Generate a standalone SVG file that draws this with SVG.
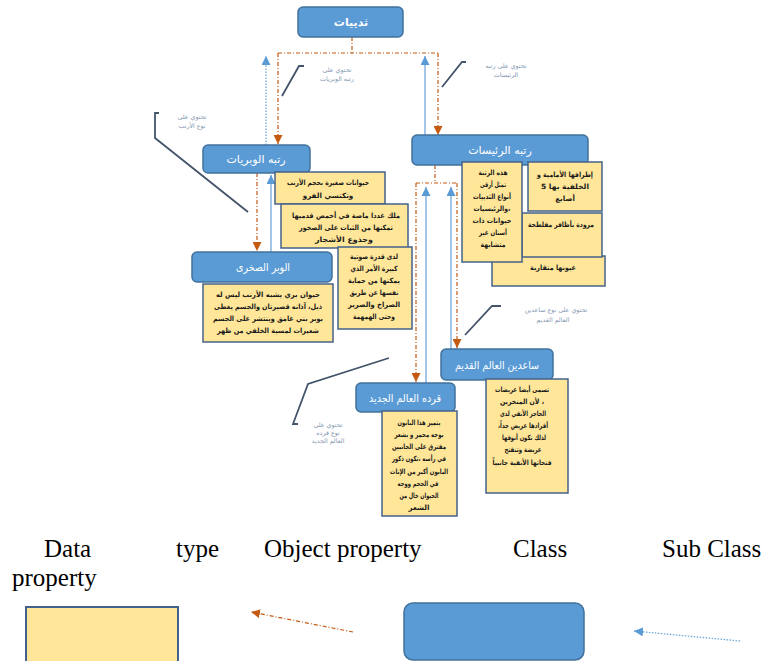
<svg xmlns="http://www.w3.org/2000/svg" width="765" height="661" viewBox="0 0 765 661">
<style>
.node rect{fill:#5b9bd5;stroke:#41719c;stroke-width:1.5}
.nt{font-family:"DejaVu Sans",sans-serif;font-size:11px;fill:#fff;text-anchor:middle;direction:rtl}
.data rect{fill:#ffe699;stroke:#44618b;stroke-width:1.5}
.dt{font-family:"DejaVu Sans",sans-serif;font-size:7.2px;font-weight:bold;fill:#1a1a1a;text-anchor:middle;direction:rtl}
.lab{font-family:"DejaVu Sans",sans-serif;font-size:6.3px;fill:#8497b0;text-anchor:middle;direction:rtl}
.obj{stroke:#c55a11;stroke-width:1.2;stroke-dasharray:4 2 1 2;fill:none}
.sub{stroke:#6fa8dc;stroke-width:1.3;fill:none}
.dot{stroke-dasharray:1.5 1.5}
.call{stroke:#44546a;stroke-width:1.8;fill:none}
.leg{font-family:"Liberation Serif",serif;font-size:25px;fill:#000}
</style>
<defs>
<marker id="ao" viewBox="0 0 10 10" refX="10" refY="5" markerWidth="9" markerHeight="9" markerUnits="userSpaceOnUse" orient="auto"><path d="M0,0 L10,5 L0,10 z" fill="#c55a11"/></marker>
<marker id="ab" viewBox="0 0 10 10" refX="10" refY="5" markerWidth="9" markerHeight="9" markerUnits="userSpaceOnUse" orient="auto"><path d="M0,0 L10,5 L0,10 z" fill="#5b9bd5"/></marker>
</defs>

<g id="connectors">
<path class="obj" d="M352,37 V53 M278,53 H438"/>
<path class="obj" d="M278,53 V144" marker-end="url(#ao)"/>
<path class="obj" d="M438,53 V135" marker-end="url(#ao)"/>
<path class="sub dot" d="M266,145 V56" marker-end="url(#ab)"/>
<path class="sub" d="M425,135 V56" marker-end="url(#ab)"/>
<path class="obj" d="M257,173 V251" marker-end="url(#ao)"/>
<path class="sub" d="M271,252 V175" marker-end="url(#ab)"/>
<path class="obj" d="M435,165 V183 M416,183 H457"/>
<path class="obj" d="M416,183 V382" marker-end="url(#ao)"/>
<path class="obj" d="M457,183 V348" marker-end="url(#ao)"/>
<path class="sub" d="M426,383 V187" marker-end="url(#ab)"/>
<path class="sub" d="M451,349 V187" marker-end="url(#ab)"/>
<path class="call" d="M159,113 H155 V138 L248,212"/>
<path class="call" d="M282,96 L299,66 H304"/>
<path class="call" d="M442,87 L462,62 H466"/>
<path class="call" d="M465,335 L492,306 H501"/>
<path class="call" d="M389,358 L308,384 L293,424 H298"/>
<text class="lab"><tspan x="192" y="119">تحتوي على</tspan><tspan x="192" y="128">نوع الأرنب</tspan></text>
<text class="lab"><tspan x="337" y="72">تحتوي على</tspan><tspan x="337" y="81">رتبه الوبريات</tspan></text>
<text class="lab"><tspan x="506" y="68">تحتوي على رتبه</tspan><tspan x="506" y="77">الرئيسات</tspan></text>
<text class="lab"><tspan x="556" y="312">تحتوي على نوع ساعدين</tspan><tspan x="553" y="322">العالم القديم</tspan></text>
<text class="lab"><tspan x="328" y="427">تحتوي على</tspan><tspan x="328" y="435">نوع قرده</tspan><tspan x="328" y="443">العالم الجديد</tspan></text>
</g>

<g id="n-mammals" class="node"><rect x="298" y="7" width="105" height="30" rx="5"/><text class="nt" x="351" y="26" font-weight="bold">ثدييات</text></g>
<g id="n-hyracoidea" class="node"><rect x="203" y="145" width="107" height="28" rx="5"/><text class="nt" x="256" y="163">رتبه الوبريات</text></g>
<g id="n-rockhyrax" class="node"><rect x="192" y="252" width="140" height="30" rx="5"/><text class="nt" x="263" y="271" textLength="54" lengthAdjust="spacingAndGlyphs">الوبر الصخرى</text></g>
<g id="n-primates" class="node"><rect x="412" y="135" width="176" height="30" rx="5"/><text class="nt" x="500" y="154">رتبه الرئيسات</text></g>
<g id="n-oldworld" class="node"><rect x="441" y="349" width="112" height="31" rx="5"/><text class="nt" x="497" y="369" textLength="84" lengthAdjust="spacingAndGlyphs">ساعدين العالم القديم</text></g>
<g id="n-newworld" class="node"><rect x="356" y="383" width="99" height="29" rx="5"/><text class="nt" x="405" y="402" textLength="72" lengthAdjust="spacingAndGlyphs">قرده العالم الجديد</text></g>

<g id="d-hyrax1" class="data"><rect x="275" y="172" width="110" height="32"/>
<text class="dt" x="328" y="185" textLength="82" lengthAdjust="spacingAndGlyphs">حيوانات صغيرة بحجم الأرنب</text>
<text class="dt" x="328" y="198">وتكتسي الفرو</text></g>
<g id="d-hyrax2" class="data"><rect x="281" y="204" width="127" height="44"/>
<text class="dt" x="346" y="218" textLength="108" lengthAdjust="spacingAndGlyphs">ملك غددا ماصة في أخمص قدميها</text>
<text class="dt" x="346" y="230" textLength="94" lengthAdjust="spacingAndGlyphs">تمكنها من الثبات على الصخور</text>
<text class="dt" x="344" y="242" textLength="58" lengthAdjust="spacingAndGlyphs">وجذوع الأشجار</text></g>
<g id="d-hyrax3" class="data"><rect x="338" y="247" width="74" height="82"/>
<text class="dt" x="374" y="259" textLength="48" lengthAdjust="spacingAndGlyphs">لدى قدرة صوتية</text>
<text class="dt" x="374" y="271" textLength="47" lengthAdjust="spacingAndGlyphs">كبيرة الأمر الذي</text>
<text class="dt" x="374" y="283" textLength="52" lengthAdjust="spacingAndGlyphs">يمكنها من حماية</text>
<text class="dt" x="374" y="295" textLength="49" lengthAdjust="spacingAndGlyphs">نفسها عن طريق</text>
<text class="dt" x="374" y="307" textLength="52" lengthAdjust="spacingAndGlyphs">الصراخ والصرير</text>
<text class="dt" x="374" y="319" textLength="42" lengthAdjust="spacingAndGlyphs">وحتى الهمهمة</text></g>
<g id="d-rockhyrax" class="data"><rect x="203" y="284" width="130" height="58"/>
<text class="dt" x="268" y="297" textLength="104" lengthAdjust="spacingAndGlyphs">حيوان بري يشبه الأرنب ليس له</text>
<text class="dt" x="268" y="309" textLength="108" lengthAdjust="spacingAndGlyphs">ذيل، آذانه قصيرتان والجسم يغطى</text>
<text class="dt" x="268" y="321" textLength="110" lengthAdjust="spacingAndGlyphs">بوبر بني غامق وينتشر على الجسم</text>
<text class="dt" x="268" y="333" textLength="102" lengthAdjust="spacingAndGlyphs">شعيرات لمسية الخلفي من ظهر</text></g>
<g id="d-primates4" class="data"><rect x="492" y="256" width="113" height="30"/>
<text class="dt" x="553" y="270" textLength="46" lengthAdjust="spacingAndGlyphs">عيونها متقاربة</text></g>
<g id="d-primates3" class="data"><rect x="522" y="213" width="80" height="44"/>
<text class="dt" x="561" y="227" textLength="66" lengthAdjust="spacingAndGlyphs">مزودة بأظافر مفلطحة</text></g>
<g id="d-primates2" class="data"><rect x="528" y="162" width="74" height="49"/>
<text class="dt" x="565" y="177" textLength="56" lengthAdjust="spacingAndGlyphs">إطرافها الأمامية و</text>
<text class="dt" x="565" y="189" textLength="48" lengthAdjust="spacingAndGlyphs">الخلفية بها 5</text>
<text class="dt" x="565" y="201">أصابع</text></g>
<g id="d-primates1" class="data"><rect x="462" y="162" width="60" height="100"/>
<text class="dt" x="493" y="175" textLength="29" lengthAdjust="spacingAndGlyphs">هذه الرتبة</text>
<text class="dt" x="493" y="187" textLength="26" lengthAdjust="spacingAndGlyphs">تمثل أرقى</text>
<text class="dt" x="492" y="199" textLength="38" lengthAdjust="spacingAndGlyphs">أنواع الثدييات</text>
<text class="dt" x="492" y="211" textLength="37" lengthAdjust="spacingAndGlyphs">،والرئيسيات</text>
<text class="dt" x="492" y="223" textLength="39" lengthAdjust="spacingAndGlyphs">حيوانات ذات</text>
<text class="dt" x="493" y="235" textLength="28" lengthAdjust="spacingAndGlyphs">أسنان غير</text>
<text class="dt" x="493" y="247" textLength="25" lengthAdjust="spacingAndGlyphs">متشابهة</text></g>
<g id="d-oldworld" class="data"><rect x="486" y="379" width="82" height="114"/>
<text class="dt" x="522" y="392" textLength="54" lengthAdjust="spacingAndGlyphs">تسمى أيضا عريضات</text>
<text class="dt" x="522" y="404" textLength="44" lengthAdjust="spacingAndGlyphs">، لأن المنخرين</text>
<text class="dt" x="523" y="416" textLength="46" lengthAdjust="spacingAndGlyphs">الحاجز الأنفي لدى</text>
<text class="dt" x="523" y="428" textLength="50" lengthAdjust="spacingAndGlyphs">أفرادها عريض جداً،</text>
<text class="dt" x="524" y="440" textLength="44" lengthAdjust="spacingAndGlyphs">لذلك تكون أنوفها</text>
<text class="dt" x="523" y="452" textLength="37" lengthAdjust="spacingAndGlyphs">عريضة وتنفتح</text>
<text class="dt" x="522" y="465" textLength="59" lengthAdjust="spacingAndGlyphs">فتحاتها الأنفية جانبياً</text></g>
<g id="d-newworld" class="data"><rect x="382" y="411" width="75" height="105"/>
<text class="dt" x="419" y="425" textLength="43" lengthAdjust="spacingAndGlyphs">يتميز هذا البابون</text>
<text class="dt" x="419" y="437" textLength="49" lengthAdjust="spacingAndGlyphs">بوجه محمر و بشعر</text>
<text class="dt" x="419" y="449" textLength="54" lengthAdjust="spacingAndGlyphs">مفترق على الجانبين</text>
<text class="dt" x="419" y="461" textLength="54" lengthAdjust="spacingAndGlyphs">في رأسه ،تكون ذكور</text>
<text class="dt" x="419" y="474" textLength="58" lengthAdjust="spacingAndGlyphs">البابون أكبر من الإناث</text>
<text class="dt" x="418" y="486" textLength="41" lengthAdjust="spacingAndGlyphs">في الحجم ووجه</text>
<text class="dt" x="419" y="498" textLength="39" lengthAdjust="spacingAndGlyphs">الحيوان خال من</text>
<text class="dt" x="419" y="510">الشعر</text></g>

<g id="legend">
<text class="leg" x="44" y="557">Data</text>
<text class="leg" x="176" y="557">type</text>
<text class="leg" x="264" y="557">Object property</text>
<text class="leg" x="513" y="557">Class</text>
<text class="leg" x="662" y="557">Sub Class</text>
<text class="leg" x="12" y="586">property</text>
<rect x="26" y="607" width="152" height="60" fill="#ffe699" stroke="#44618b" stroke-width="2"/>
<rect x="404" y="603" width="180" height="57" rx="9" fill="#5b9bd5" stroke="#41719c" stroke-width="1.5"/>
<path class="obj" d="M353,632 L251,612" marker-end="url(#ao)"/>
<path class="sub dot" d="M740,641 L634,631" marker-end="url(#ab)"/>
</g>
</svg>
